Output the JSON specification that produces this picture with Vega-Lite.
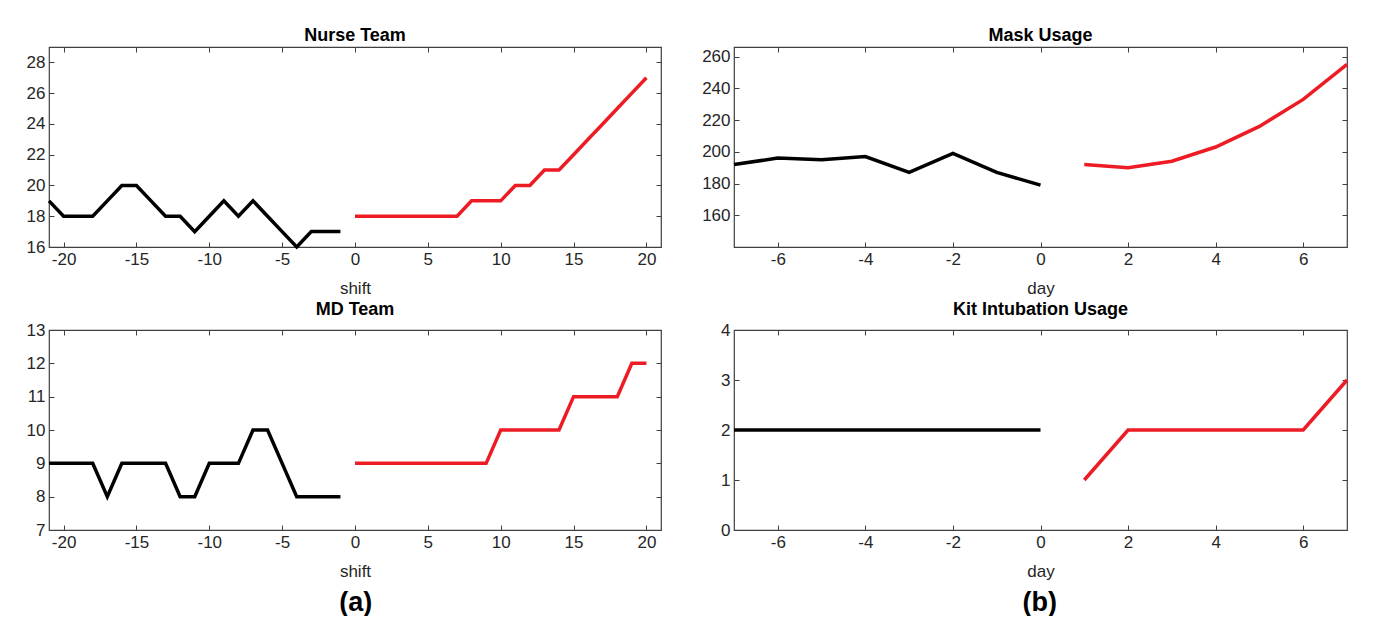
{
  "$schema": "https://vega.github.io/schema/vega-lite/v6.json",
  "padding": {"left": 25, "top": 25, "right": 5, "bottom": 0},
  "datasets": {
    "nurse": [
      {"x": -21, "y": 19, "period": "past"}, {"x": -20, "y": 18, "period": "past"}, {"x": -19, "y": 18, "period": "past"}, {"x": -18, "y": 18, "period": "past"}, {"x": -17, "y": 19, "period": "past"}, {"x": -16, "y": 20, "period": "past"}, {"x": -15, "y": 20, "period": "past"}, {"x": -14, "y": 19, "period": "past"}, {"x": -13, "y": 18, "period": "past"}, {"x": -12, "y": 18, "period": "past"}, {"x": -11, "y": 17, "period": "past"}, {"x": -10, "y": 18, "period": "past"}, {"x": -9, "y": 19, "period": "past"}, {"x": -8, "y": 18, "period": "past"}, {"x": -7, "y": 19, "period": "past"}, {"x": -6, "y": 18, "period": "past"}, {"x": -5, "y": 17, "period": "past"}, {"x": -4, "y": 16, "period": "past"}, {"x": -3, "y": 17, "period": "past"}, {"x": -2, "y": 17, "period": "past"}, {"x": -1, "y": 17, "period": "past"},
      {"x": 0, "y": 18, "period": "forecast"}, {"x": 1, "y": 18, "period": "forecast"}, {"x": 2, "y": 18, "period": "forecast"}, {"x": 3, "y": 18, "period": "forecast"}, {"x": 4, "y": 18, "period": "forecast"}, {"x": 5, "y": 18, "period": "forecast"}, {"x": 6, "y": 18, "period": "forecast"}, {"x": 7, "y": 18, "period": "forecast"}, {"x": 8, "y": 19, "period": "forecast"}, {"x": 9, "y": 19, "period": "forecast"}, {"x": 10, "y": 19, "period": "forecast"}, {"x": 11, "y": 20, "period": "forecast"}, {"x": 12, "y": 20, "period": "forecast"}, {"x": 13, "y": 21, "period": "forecast"}, {"x": 14, "y": 21, "period": "forecast"}, {"x": 15, "y": 22, "period": "forecast"}, {"x": 16, "y": 23, "period": "forecast"}, {"x": 17, "y": 24, "period": "forecast"}, {"x": 18, "y": 25, "period": "forecast"}, {"x": 19, "y": 26, "period": "forecast"}, {"x": 20, "y": 27, "period": "forecast"}
    ],
    "md": [
      {"x": -21, "y": 9, "period": "past"}, {"x": -20, "y": 9, "period": "past"}, {"x": -19, "y": 9, "period": "past"}, {"x": -18, "y": 9, "period": "past"}, {"x": -17, "y": 8, "period": "past"}, {"x": -16, "y": 9, "period": "past"}, {"x": -15, "y": 9, "period": "past"}, {"x": -14, "y": 9, "period": "past"}, {"x": -13, "y": 9, "period": "past"}, {"x": -12, "y": 8, "period": "past"}, {"x": -11, "y": 8, "period": "past"}, {"x": -10, "y": 9, "period": "past"}, {"x": -9, "y": 9, "period": "past"}, {"x": -8, "y": 9, "period": "past"}, {"x": -7, "y": 10, "period": "past"}, {"x": -6, "y": 10, "period": "past"}, {"x": -5, "y": 9, "period": "past"}, {"x": -4, "y": 8, "period": "past"}, {"x": -3, "y": 8, "period": "past"}, {"x": -2, "y": 8, "period": "past"}, {"x": -1, "y": 8, "period": "past"},
      {"x": 0, "y": 9, "period": "forecast"}, {"x": 1, "y": 9, "period": "forecast"}, {"x": 2, "y": 9, "period": "forecast"}, {"x": 3, "y": 9, "period": "forecast"}, {"x": 4, "y": 9, "period": "forecast"}, {"x": 5, "y": 9, "period": "forecast"}, {"x": 6, "y": 9, "period": "forecast"}, {"x": 7, "y": 9, "period": "forecast"}, {"x": 8, "y": 9, "period": "forecast"}, {"x": 9, "y": 9, "period": "forecast"}, {"x": 10, "y": 10, "period": "forecast"}, {"x": 11, "y": 10, "period": "forecast"}, {"x": 12, "y": 10, "period": "forecast"}, {"x": 13, "y": 10, "period": "forecast"}, {"x": 14, "y": 10, "period": "forecast"}, {"x": 15, "y": 11, "period": "forecast"}, {"x": 16, "y": 11, "period": "forecast"}, {"x": 17, "y": 11, "period": "forecast"}, {"x": 18, "y": 11, "period": "forecast"}, {"x": 19, "y": 12, "period": "forecast"}, {"x": 20, "y": 12, "period": "forecast"}
    ],
    "mask": [
      {"x": -7, "y": 192, "period": "past"}, {"x": -6, "y": 196, "period": "past"}, {"x": -5, "y": 195, "period": "past"}, {"x": -4, "y": 197, "period": "past"}, {"x": -3, "y": 187, "period": "past"}, {"x": -2, "y": 199, "period": "past"}, {"x": -1, "y": 187, "period": "past"}, {"x": 0, "y": 179, "period": "past"},
      {"x": 1, "y": 192, "period": "forecast"}, {"x": 2, "y": 190, "period": "forecast"}, {"x": 3, "y": 194, "period": "forecast"}, {"x": 4, "y": 203, "period": "forecast"}, {"x": 5, "y": 216, "period": "forecast"}, {"x": 6, "y": 233, "period": "forecast"}, {"x": 7, "y": 255, "period": "forecast"}
    ],
    "kit": [
      {"x": -7, "y": 2, "period": "past"}, {"x": -6, "y": 2, "period": "past"}, {"x": -5, "y": 2, "period": "past"}, {"x": -4, "y": 2, "period": "past"}, {"x": -3, "y": 2, "period": "past"}, {"x": -2, "y": 2, "period": "past"}, {"x": -1, "y": 2, "period": "past"}, {"x": 0, "y": 2, "period": "past"},
      {"x": 1, "y": 1, "period": "forecast"}, {"x": 2, "y": 2, "period": "forecast"}, {"x": 3, "y": 2, "period": "forecast"}, {"x": 4, "y": 2, "period": "forecast"}, {"x": 5, "y": 2, "period": "forecast"}, {"x": 6, "y": 2, "period": "forecast"}, {"x": 7, "y": 3, "period": "forecast"}
    ]
  },
  "hconcat": [
    {
      "title": {"text": "(a)", "orient": "bottom", "anchor": "middle", "fontSize": 27, "fontWeight": "bold", "offset": 10, "dx": 12},
      "spacing": 3,
      "vconcat": [
        {
          "width": 612, "height": 200,
          "title": "Nurse Team",
          "data": {"name": "nurse"},
          "layer": [
            {
              "mark": {"type": "line", "strokeWidth": 3.5},
              "encoding": {
                "x": {"field": "x", "type": "quantitative", "scale": {"domain": [-21, 21], "nice": false, "zero": false}, "axis": {"values": [-20, -15, -10, -5, 0, 5, 10, 15, 20], "title": "shift"}},
                "y": {"field": "y", "type": "quantitative", "scale": {"domain": [16, 29], "nice": false, "zero": false}, "axis": {"values": [16, 18, 20, 22, 24, 26, 28], "title": null}},
                "color": {"field": "period", "type": "nominal", "scale": {"domain": ["past", "forecast"], "range": ["#000000", "#ed1c24"]}, "legend": null}
              }
            },
            {
              "mark": {"type": "point", "opacity": 0},
              "encoding": {
                "x": {"field": "x", "type": "quantitative", "scale": {"domain": [-21, 21], "nice": false, "zero": false}, "axis": {"orient": "top", "labels": false, "title": null, "values": [-20, -15, -10, -5, 0, 5, 10, 15, 20]}},
                "y": {"field": "y", "type": "quantitative", "scale": {"domain": [16, 29], "nice": false, "zero": false}, "axis": {"orient": "right", "labels": false, "title": null, "values": [16, 18, 20, 22, 24, 26, 28]}}
              }
            }
          ],
          "resolve": {"axis": {"x": "independent", "y": "independent"}}
        },
        {
          "width": 612, "height": 200,
          "title": "MD Team",
          "data": {"name": "md"},
          "layer": [
            {
              "mark": {"type": "line", "strokeWidth": 3.5},
              "encoding": {
                "x": {"field": "x", "type": "quantitative", "scale": {"domain": [-21, 21], "nice": false, "zero": false}, "axis": {"values": [-20, -15, -10, -5, 0, 5, 10, 15, 20], "title": "shift"}},
                "y": {"field": "y", "type": "quantitative", "scale": {"domain": [7, 13], "nice": false, "zero": false}, "axis": {"values": [7, 8, 9, 10, 11, 12, 13], "title": null}},
                "color": {"field": "period", "type": "nominal", "scale": {"domain": ["past", "forecast"], "range": ["#000000", "#ed1c24"]}, "legend": null}
              }
            },
            {
              "mark": {"type": "point", "opacity": 0},
              "encoding": {
                "x": {"field": "x", "type": "quantitative", "scale": {"domain": [-21, 21], "nice": false, "zero": false}, "axis": {"orient": "top", "labels": false, "title": null, "values": [-20, -15, -10, -5, 0, 5, 10, 15, 20]}},
                "y": {"field": "y", "type": "quantitative", "scale": {"domain": [7, 13], "nice": false, "zero": false}, "axis": {"orient": "right", "labels": false, "title": null, "values": [7, 8, 9, 10, 11, 12, 13]}}
              }
            }
          ],
          "resolve": {"axis": {"x": "independent", "y": "independent"}}
        }
      ]
    },
    {
      "title": {"text": "(b)", "orient": "bottom", "anchor": "middle", "fontSize": 27, "fontWeight": "bold", "offset": 10, "dx": 12},
      "spacing": 3,
      "vconcat": [
        {
          "width": 613, "height": 200,
          "title": "Mask Usage",
          "data": {"name": "mask"},
          "layer": [
            {
              "mark": {"type": "line", "strokeWidth": 3.5},
              "encoding": {
                "x": {"field": "x", "type": "quantitative", "scale": {"domain": [-7, 7], "nice": false, "zero": false}, "axis": {"values": [-6, -4, -2, 0, 2, 4, 6], "title": "day"}},
                "y": {"field": "y", "type": "quantitative", "scale": {"domain": [140, 266], "nice": false, "zero": false}, "axis": {"values": [160, 180, 200, 220, 240, 260], "title": null}},
                "color": {"field": "period", "type": "nominal", "scale": {"domain": ["past", "forecast"], "range": ["#000000", "#ed1c24"]}, "legend": null}
              }
            },
            {
              "mark": {"type": "point", "opacity": 0},
              "encoding": {
                "x": {"field": "x", "type": "quantitative", "scale": {"domain": [-7, 7], "nice": false, "zero": false}, "axis": {"orient": "top", "labels": false, "title": null, "values": [-6, -4, -2, 0, 2, 4, 6]}},
                "y": {"field": "y", "type": "quantitative", "scale": {"domain": [140, 266], "nice": false, "zero": false}, "axis": {"orient": "right", "labels": false, "title": null, "values": [160, 180, 200, 220, 240, 260]}}
              }
            }
          ],
          "resolve": {"axis": {"x": "independent", "y": "independent"}}
        },
        {
          "width": 613, "height": 200,
          "title": "Kit Intubation Usage",
          "data": {"name": "kit"},
          "layer": [
            {
              "mark": {"type": "line", "strokeWidth": 3.5},
              "encoding": {
                "x": {"field": "x", "type": "quantitative", "scale": {"domain": [-7, 7], "nice": false, "zero": false}, "axis": {"values": [-6, -4, -2, 0, 2, 4, 6], "title": "day"}},
                "y": {"field": "y", "type": "quantitative", "scale": {"domain": [0, 4], "nice": false, "zero": false}, "axis": {"values": [0, 1, 2, 3, 4], "title": null}},
                "color": {"field": "period", "type": "nominal", "scale": {"domain": ["past", "forecast"], "range": ["#000000", "#ed1c24"]}, "legend": null}
              }
            },
            {
              "mark": {"type": "point", "opacity": 0},
              "encoding": {
                "x": {"field": "x", "type": "quantitative", "scale": {"domain": [-7, 7], "nice": false, "zero": false}, "axis": {"orient": "top", "labels": false, "title": null, "values": [-6, -4, -2, 0, 2, 4, 6]}},
                "y": {"field": "y", "type": "quantitative", "scale": {"domain": [0, 4], "nice": false, "zero": false}, "axis": {"orient": "right", "labels": false, "title": null, "values": [0, 1, 2, 3, 4]}}
              }
            }
          ],
          "resolve": {"axis": {"x": "independent", "y": "independent"}}
        }
      ]
    }
  ],
  "spacing": 38,
  "config": {
    "view": {"stroke": "#404040", "strokeWidth": 1.2},
    "axis": {"domain": false, "grid": false, "tickSize": -5, "tickColor": "#404040", "tickWidth": 1, "labelFont": "Liberation Sans", "labelFontSize": 17, "labelColor": "#262626", "labelPadding": 9, "labelFlush": false, "labelExpr": "replace(datum.label, '\u2212', '-')", "titleFont": "Liberation Sans", "titleFontSize": 17, "titleFontWeight": "normal", "titleColor": "#262626", "titlePadding": 13},
    "title": {"font": "Liberation Sans", "fontSize": 18, "fontWeight": "bold", "color": "#000000", "offset": 2}
  }
}
